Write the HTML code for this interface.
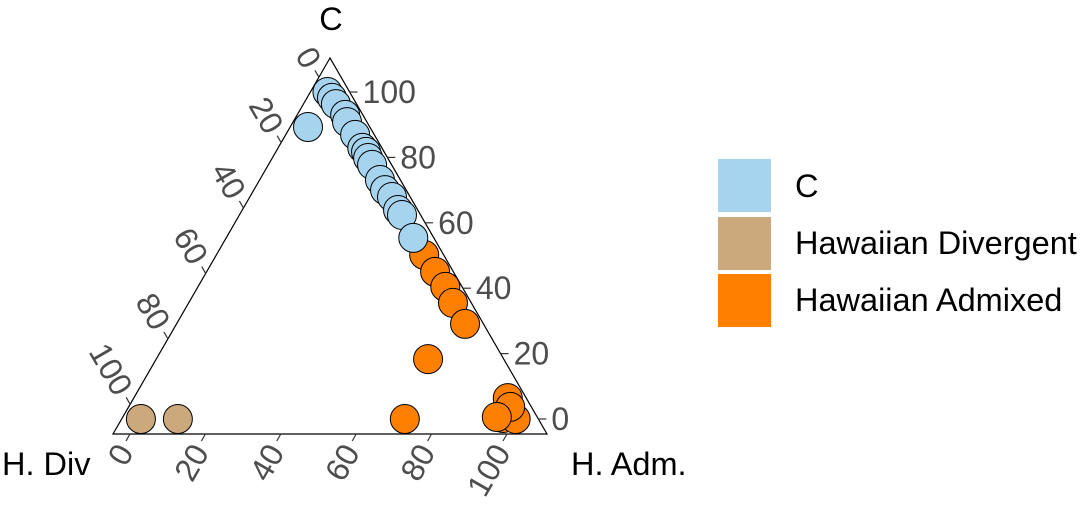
<!DOCTYPE html>
<html><head><meta charset="utf-8"><style>
html,body{margin:0;padding:0;background:#fff;}
svg{display:block;font-family:"Liberation Sans",Arial,sans-serif;}
</style></head><body>
<svg id="chart" width="1083" height="512">
  <polygon points="330,58 113,434 547,434" fill="none" stroke="#000" stroke-width="1.2"/>
  <g id="ticks"></g>
  <g id="points"></g>
  <text x="331" y="30" font-size="32.5" text-anchor="middle" fill="#000">C</text>
  <text x="2" y="475" font-size="32.5" fill="#000">H. Div</text>
  <text x="571" y="475" font-size="32.5" fill="#000">H. Adm.</text>
  <g>
    <rect x="718" y="159" width="53" height="53" fill="#A6D4EE"/>
    <text x="795" y="197" font-size="32.5" fill="#000">C</text>
    <rect x="718" y="217" width="53" height="53" fill="#CBA97D"/>
    <text x="795" y="254" font-size="32.5" fill="#000">Hawaiian Divergent</text>
    <rect x="718" y="274" width="53" height="53" fill="#FF8000"/>
    <text x="795" y="311" font-size="32.5" fill="#000">Hawaiian Admixed</text>
  </g>
</svg>
<script>
// data: H.Adm (a) and C (c) percentages; H.Div = 100 - a - c
const tickValues = [0, 20, 40, 60, 80, 100];
const orangeAdm = [50.6, 56.1, 61.1, 65.6, 72, 67.6, 70.6, 94.7, 96.5, 100, 96.7, 94.7];
const orangeC   = [50.2, 45, 40.4, 35.5, 29.1, 18.3, 0, 6.4, 0.3, 0, 3.7, 0.6];
const brownAdm = [0.6, 10.4];
const brownC   = [0, 0];
const blueAdm = [0, 2.1, 4.1, 8.2, 9.8, 13.9, 17.8, 19.4, 20.9, 23, 27.4, 30.3, 33.2, 36.8, 38.6, 45.1, 0.2];
const blueC   = [100, 98.2, 96.3, 93, 90.8, 86.9, 82.9, 81.7, 79.8, 77.7, 73.1, 70, 67.9, 63.9, 62.4, 55.4, 89.3];

const NS = "http://www.w3.org/2000/svg";
const K = 0.57735;
function py(c){ return 419 - 3.27*c; }
function px(a,c){ return 130 + 3.77*a + (434 - py(c))*K; }

const ticks = document.getElementById('ticks');
function line(x1,y1,x2,y2,name){
  const l = document.createElementNS(NS,'line');
  l.setAttribute('x1',x1);l.setAttribute('y1',y1);l.setAttribute('x2',x2);l.setAttribute('y2',y2);
  l.setAttribute('stroke','#333');l.setAttribute('stroke-width','1.2');
  
  
  ticks.appendChild(l);
}
function label(x,y,txt,rot,anchor,name){
  const t = document.createElementNS(NS,'text');
  t.setAttribute('x',x);t.setAttribute('y',y);
  t.setAttribute('font-size','32');t.setAttribute('fill','#4d4d4d');
  t.setAttribute('text-anchor',anchor);
  t.setAttribute('dominant-baseline','central');
  if(rot) t.setAttribute('transform','rotate('+rot+' '+x+' '+y+')');
  t.textContent = txt;
  
  
  ticks.appendChild(t);
}
tickValues.forEach(v=>{
  const y = py(v), xr = 547 - (434-y)*K;
  line(xr,y,xr+8,y,'c-axis-tick');
  label(xr+13,y,String(v),0,'start','c-axis-tick-label');
  const xb = 130 + 3.77*v;
  line(xb,434,xb-4,441,'hadm-axis-tick');
  label(xb-5,447,String(v),-60,'end','hadm-axis-tick-label');
  const yd = py(100-v);
  const Kc = 130 + 2*K*(434-yd);
  const h = (Kc-113)/(2*K);
  const yl = 434-h, xl = 113 + h*K;
  line(xl,yl,xl-4,yl-7,'hdiv-axis-tick');
  label(xl-6,yl-12,String(v),60,'end','hdiv-axis-tick-label');
});

const pts = document.getElementById('points');
function drawSeries(aArr,cArr,fill,name){
  aArr.forEach((a,i)=>{
    const c = cArr[i];
    const e = document.createElementNS(NS,'circle');
    e.setAttribute('cx',px(a,c));e.setAttribute('cy',py(c));e.setAttribute('r',14.5);
    e.setAttribute('fill',fill);e.setAttribute('stroke','#000');e.setAttribute('stroke-width','1');
    
    
    pts.appendChild(e);
  });
}
drawSeries(brownAdm,brownC,'#CBA97D','point-hawaiian-divergent');
drawSeries(orangeAdm,orangeC,'#FF8000','point-hawaiian-admixed');
drawSeries(blueAdm,blueC,'#A6D4EE','point-c');
</script>
</body></html>
